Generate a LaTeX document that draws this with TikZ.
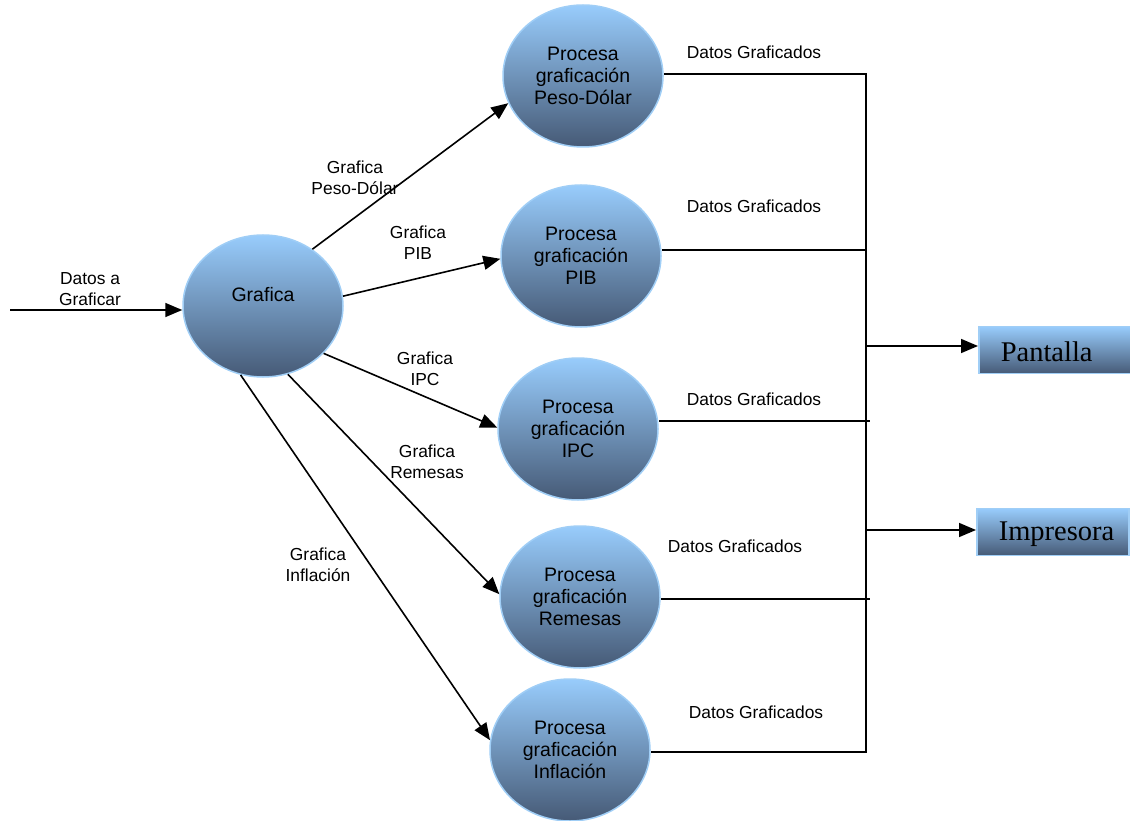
\documentclass[tikz,border=0pt]{standalone}
\usepackage{fontspec}
\setmainfont{Liberation Sans}
\newfontfamily\letraserif{Liberation Serif}
\usetikzlibrary{shapes.geometric,arrows.meta}
\definecolor{azulclaro}{RGB}{152,204,252}
\definecolor{azulmedio}{RGB}{118,162,212}
\definecolor{azuloscuro}{RGB}{70,90,118}
\definecolor{bordeazul}{RGB}{160,206,246}

\begin{document}
\begin{tikzpicture}[x=1pt,y=-1pt,
	burbuja/.style={ellipse, draw=bordeazul, line width=1.5pt,
		top color=azulclaro, middle color=azulmedio, bottom color=azuloscuro,
		minimum width=160pt, minimum height=142pt, inner sep=0pt,
		align=center, font=\fontsize{19.5}{22}\selectfont},
	destino/.style={rectangle, draw=bordeazul, line width=1.5pt,
		top color=azulclaro, bottom color=azuloscuro,
		text width=130pt, align=left, inner xsep=11pt, inner ysep=0pt,
		minimum height=47pt,
		font=\letraserif\fontsize{28.5}{30}\selectfont},
	etiq/.style={align=center, inner sep=0pt, font=\fontsize{17.4}{21}\selectfont},
	flujo/.style={line width=1.6pt, -{Triangle[length=17pt,width=14pt]}},
	linea/.style={line width=1.6pt}]
		\useasboundingbox (0,0) rectangle (1130,821);
		
		% burbujas
		\node[burbuja, text depth=24pt] (graf) at (263,306) {Grafica};
		\node[burbuja] (pPeso) at (583,76) {Procesa\\graficación\\Peso-Dólar};
		\node[burbuja] (pPib) at (581,256) {Procesa\\graficación\\PIB};
		\node[burbuja] (pIpc) at (578,429) {Procesa\\graficación\\IPC};
		\node[burbuja] (pRem) at (580,597) {Procesa\\graficación\\Remesas};
		\node[burbuja] (pInf) at (570,750) {Procesa\\graficación\\Inflación};
		
		% salidas
		\node[destino, anchor=west, text height=24pt] (pantalla) at (978,350) {\hspace*{11pt}Pantalla};
		\node[destino, anchor=west, text height=24pt] (impresora) at (976,532) {\hspace*{11pt}Impresora};
		
		% entrada
		\coordinate (ent) at (10,310);
		\draw[flujo] (ent) -- (graf.west |- ent);
		\node[etiq] (lEnt) at (90,289) {Datos a\\Graficar};
		
		% flujos hacia los procesos
		\draw[flujo] (graf.49) -- (pPeso.200);
		\draw[flujo] (graf.7) -- (pPib.182);
		\draw[flujo] (graf.-38) -- (pIpc.179);
		\draw[flujo] (graf.-70) -- (pRem.178);
		\draw[flujo] (graf.-108) -- (pInf.173);
		\node[etiq] (lPeso) at (355,178) {Grafica\\Peso-Dólar};
		\node[etiq] (lPib) at (418,243) {Grafica\\PIB};
		\node[etiq] (lIpc) at (425,369) {Grafica\\IPC};
		\node[etiq] (lRem) at (427,462) {Grafica\\Remesas};
		\node[etiq] (lInf) at (318,565) {Grafica\\Inflación};
		
		% bus de datos graficados
		\coordinate (busA) at (866,74);
		\coordinate (busB) at (866,752);
		\draw[linea] (pPeso.east |- busA) -- (busA) -- (busB) -- (pInf.east |- busB);
		\draw[linea] (pPib.east |- 0,250) -- (866,250);
		\draw[linea] (pIpc.east |- 0,421) -- (870,421);
		\draw[linea] (pRem.east |- 0,599) -- (870,599);
		\node[etiq] (dPeso) at (754,52) {Datos Graficados};
		\node[etiq] (dPib) at (754,206) {Datos Graficados};
		\node[etiq] (dIpc) at (754,399) {Datos Graficados};
		\node[etiq] (dRem) at (735,546) {Datos Graficados};
		\node[etiq] (dInf) at (756,712) {Datos Graficados};
		
		\draw[flujo] (866,346) -- (pantalla.west |- 0,346);
		\draw[flujo] (866,530) -- (impresora.west |- 0,530);
	\end{tikzpicture}
\end{document}
